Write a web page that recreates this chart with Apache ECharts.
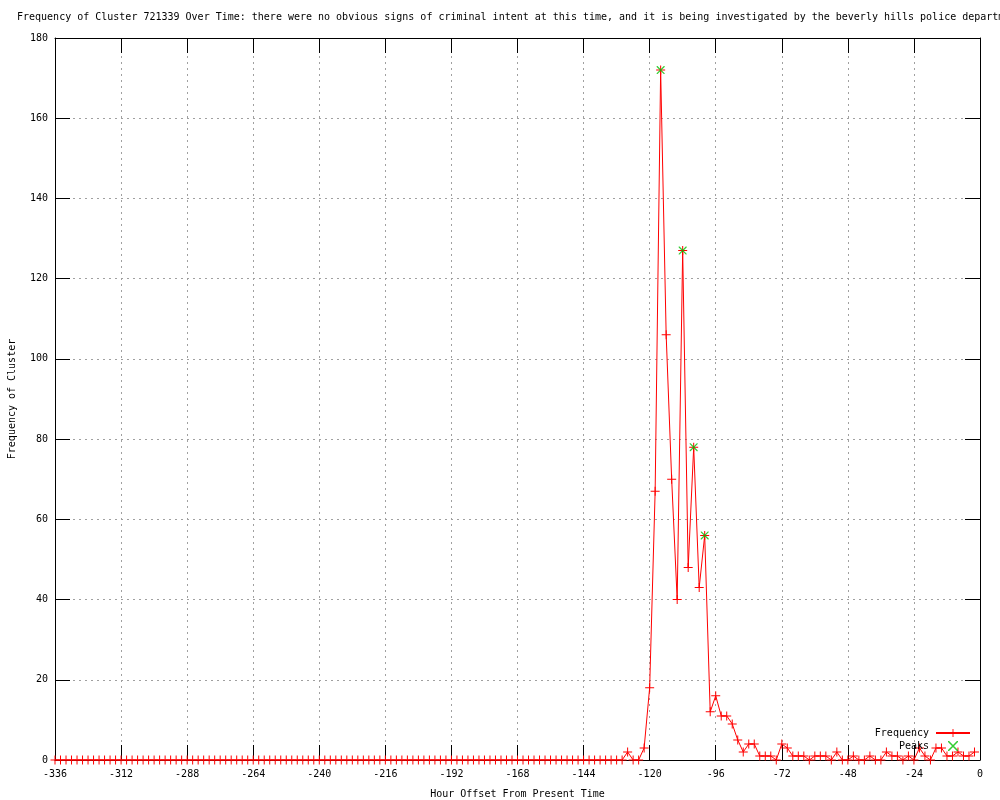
<!DOCTYPE html>
<html>
<head>
<meta charset="utf-8">
<script src="https://cdn.jsdelivr.net/npm/echarts@6/dist/echarts.min.js"></script>
<style>html,body{margin:0;padding:0;background:#fff}#c{width:1000px;height:800px}</style>
</head>
<body>
<div id="c"></div>
<script>
const titleText = "Frequency of Cluster 721339 Over Time: there were no obvious signs of criminal intent at this time, and it is being investigated by the beverly hills police departm";
const xTicks = [-336, -312, -288, -264, -240, -216, -192, -168, -144, -120, -96, -72, -48, -24, 0];
const hours = [
  -336,-334,-332,-330,-328,-326,-324,-322,-320,-318,-316,-314,-312,-310,-308,-306,-304,-302,-300,-298,
  -296,-294,-292,-290,-288,-286,-284,-282,-280,-278,-276,-274,-272,-270,-268,-266,-264,-262,-260,-258,
  -256,-254,-252,-250,-248,-246,-244,-242,-240,-238,-236,-234,-232,-230,-228,-226,-224,-222,-220,-218,
  -216,-214,-212,-210,-208,-206,-204,-202,-200,-198,-196,-194,-192,-190,-188,-186,-184,-182,-180,-178,
  -176,-174,-172,-170,-168,-166,-164,-162,-160,-158,-156,-154,-152,-150,-148,-146,-144,-142,-140,-138,
  -136,-134,-132,-130,-128,-126,-124,-122,-120,-118,-116,-114,-112,-110,-108,-106,-104,-102,-100,-98,
  -96,-94,-92,-90,-88,-86,-84,-82,-80,-78,-76,-74,-72,-70,-68,-66,-64,-62,-60,-58,
  -56,-54,-52,-50,-48,-46,-44,-42,-40,-38,-36,-34,-32,-30,-28,-26,-24,-22,-20,-18,
  -16,-14,-12,-10,-8,-6,-4,-2
];
const frequency = [
  0,0,0,0,0,0,0,0,0,0,0,0,0,0,0,0,0,0,0,0,
  0,0,0,0,0,0,0,0,0,0,0,0,0,0,0,0,0,0,0,0,
  0,0,0,0,0,0,0,0,0,0,0,0,0,0,0,0,0,0,0,0,
  0,0,0,0,0,0,0,0,0,0,0,0,0,0,0,0,0,0,0,0,
  0,0,0,0,0,0,0,0,0,0,0,0,0,0,0,0,0,0,0,0,
  0,0,0,0,2,0,0,3,18,67,172,106,70,40,127,48,78,43,56,12,
  16,11,11,9,5,2,4,4,1,1,1,0,4,3,1,1,1,0,1,1,
  1,0,2,0,0,1,0,0,1,0,0,2,1,1,0,1,0,3,1,0,
  3,3,1,1,2,1,1,2
];
const peakHours = [-116, -108, -104, -100];
const peakValues = [172, 127, 78, 56];

const font = "DejaVu Sans Mono";
const plusPath = 'path://M4,0 L5,0 L5,4 L9,4 L9,5 L5,5 L5,9 L4,9 L4,5 L0,5 L0,4 L4,4 Z';
const xPath = 'path://M0,0 L1,0 L9,8 L9,9 L8,9 L0,1 Z M8,0 L9,0 L9,1 L1,9 L0,9 L0,8 Z';

const chart = echarts.init(document.getElementById('c'), null, {renderer: 'canvas'});
const gridLine = {show: true, lineStyle: {color: '#a0a0a0', width: 1, type: [2, 4]}};
const tickStyle = {show: true, inside: true, length: 15, lineStyle: {color: '#000', width: 1}};
chart.setOption({
  animation: false,
  backgroundColor: '#ffffff',
  textStyle: {fontFamily: font},
  title: {
    text: titleText, left: 17, top: 12, padding: 0,
    textStyle: {fontFamily: font, fontSize: 10, fontWeight: 'normal', color: '#000'}
  },
  grid: {left: 55, right: 20, top: 38, bottom: 40, containLabel: false, outerBoundsMode: 'none'},
  legend: {
    orient: 'vertical', right: 29, top: 728, align: 'right', padding: 0,
    itemWidth: 34, itemHeight: 10, itemGap: 3,
    textStyle: {fontFamily: font, fontSize: 10, color: '#000', padding: [0, 2, 0, 0]},
    data: ['Frequency', 'Peaks']
  },
  xAxis: [{
    type: 'value', min: -336, max: 0, interval: 24, position: 'bottom',
    name: 'Hour Offset From Present Time', nameLocation: 'middle', nameGap: 29,
    nameTextStyle: {fontFamily: font, fontSize: 10, color: '#000'},
    axisLine: {show: true, onZero: false, lineStyle: {color: '#000', width: 1}},
    axisTick: tickStyle,
    axisLabel: {fontFamily: font, fontSize: 10, color: '#000', margin: 9,
      customValues: xTicks},
    splitLine: gridLine
  }, {
    type: 'value', min: -336, max: 0, interval: 24, position: 'top',
    axisLine: {show: true, onZero: false, lineStyle: {color: '#000', width: 1}},
    axisTick: tickStyle, axisLabel: {show: false}, splitLine: {show: false}
  }],
  yAxis: [{
    type: 'value', min: 0, max: 180, interval: 20, position: 'left',
    name: 'Frequency of Cluster', nameLocation: 'middle', nameGap: 38,
    nameTextStyle: {fontFamily: font, fontSize: 10, color: '#000'},
    axisLine: {show: true, onZero: false, lineStyle: {color: '#000', width: 1}},
    axisTick: tickStyle,
    axisLabel: {fontFamily: font, fontSize: 10, color: '#000', margin: 7},
    splitLine: gridLine
  }, {
    type: 'value', min: 0, max: 180, interval: 20, position: 'right',
    axisLine: {show: true, onZero: false, lineStyle: {color: '#000', width: 1}},
    axisTick: tickStyle, axisLabel: {show: false}, splitLine: {show: false}
  }],
  series: [{
    name: 'Frequency', type: 'line',
    data: hours.map((h, i) => [h, frequency[i]]),
    showAllSymbol: true, symbol: plusPath, symbolSize: 9,
    lineStyle: {color: '#ff0000', width: 1},
    itemStyle: {color: '#ff0000'},
    emphasis: {disabled: true}, z: 3
  }, {
    name: 'Peaks', type: 'scatter',
    data: peakHours.map((h, i) => [h, peakValues[i]]),
    symbol: xPath, symbolSize: 8,
    itemStyle: {color: '#00c000'},
    emphasis: {disabled: true}, z: 4
  }]
});
</script>
</body>
</html>
